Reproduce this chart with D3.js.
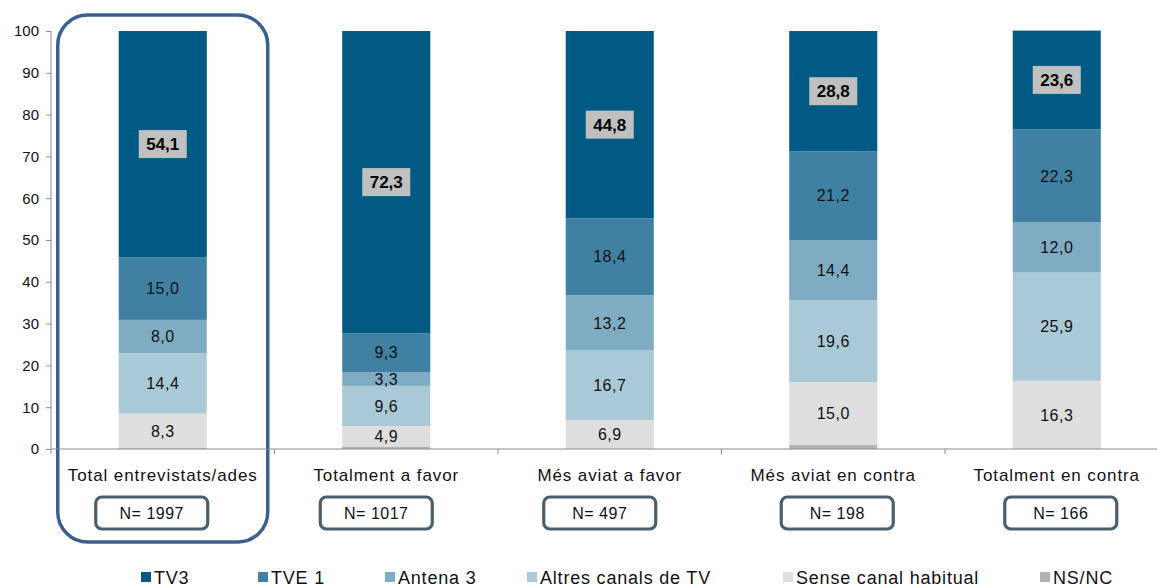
<!DOCTYPE html>
<html>
<head>
<meta charset="utf-8">
<script src="https://cdnjs.cloudflare.com/ajax/libs/d3/7.8.5/d3.min.js"></script>
<style>
  body { margin: 0; background: #fff; }
  svg { display: block; font-family: Arial, "Liberation Sans", sans-serif; }
</style>
</head>
<body>
<script>
// categories and sample sizes
var categories = ["Total entrevistats/ades", "Totalment a favor", "Més aviat a favor", "Més aviat en contra", "Totalment en contra"];
var sampleN = [1997, 1017, 497, 198, 166];

// series, bottom to top
var seriesNames = ["NS/NC", "Sense canal habitual", "Altres canals de TV", "Antena 3", "TVE 1", "TV3"];
var nsnc   = [0.2, 0.6, 0.0, 1.0, 0.0];
var sense  = [8.3, 4.9, 6.9, 15.0, 16.3];
var altres = [14.4, 9.6, 16.7, 19.6, 25.9];
var antena = [8.0, 3.3, 13.2, 14.4, 12.0];
var tve1   = [15.0, 9.3, 18.4, 21.2, 22.3];
var tv3    = [54.1, 72.3, 44.8, 28.8, 23.6];

var yTicks = [0, 10, 20, 30, 40, 50, 60, 70, 80, 90, 100];
var legendOrder = ["TV3", "TVE 1", "Antena 3", "Altres canals de TV", "Sense canal habitual", "NS/NC"];

var colors = {
	"TV3": "#015a83",
	"TVE 1": "#3f80a3",
	"Antena 3": "#80acc3",
	"Altres canals de TV": "#a9c9d7",
	"Sense canal habitual": "#dedede",
	"NS/NC": "#b2b2b2"
};

var W = 1157, H = 587;
var svg = d3.select("body").append("svg")
	.attr("width", W)
	.attr("height", H);

// build rows for the stack
var rows = categories.map(function(c, i) {
	return {
		cat: c,
		"NS/NC": nsnc[i],
		"Sense canal habitual": sense[i],
		"Altres canals de TV": altres[i],
		"Antena 3": antena[i],
		"TVE 1": tve1[i],
		"TV3": tv3[i]
	};
});

var x = d3.scaleBand()
	.domain(categories)
	.range([51, 1168.5])
	.paddingInner(0.606)
	.paddingOuter(0.303);

var y = d3.scaleLinear()
	.domain([0, 100])
	.range([449, 31]);

var stack = d3.stack().keys(seriesNames);
var layers = stack(rows);

// highlight round box around first column
var step = x.step();
svg.append("rect")
	.attr("x", x(categories[0]) + x.bandwidth() / 2 - 105)
	.attr("y", 15)
	.attr("width", 210)
	.attr("height", 527)
	.attr("rx", 30)
	.attr("fill", "none")
	.attr("stroke", "#3b6090")
	.attr("stroke-width", 3.5);

// y axis
var yAxis = d3.axisLeft(y)
	.tickValues(yTicks)
	.tickSize(5)
	.tickPadding(7);

var gy = svg.append("g")
	.attr("transform", "translate(51,0)")
	.call(yAxis);
gy.select(".domain").attr("stroke", "#8c8c8c").attr("d", "M0," + y(100) + "V" + (y(0) + 5));
gy.selectAll(".tick line").attr("stroke", "#8c8c8c");
gy.selectAll(".tick text").attr("font-size", 15).attr("fill", "#111")
	.style("font-family", "Arial, 'Liberation Sans', sans-serif");

// bars
var layerG = svg.selectAll("g.layer")
	.data(layers)
	.enter().append("g")
	.attr("class", "layer")
	.attr("fill", function(d) { return colors[d.key]; });

layerG.selectAll("rect")
	.data(function(d) { return d; })
	.enter().append("rect")
	.attr("x", function(d) { return x(d.data.cat); })
	.attr("y", function(d) { return y(d[1]); })
	.attr("width", x.bandwidth())
	.attr("height", function(d) { return y(d[0]) - y(d[1]); });

// x axis line with boundary ticks
var x0 = 51, x1 = 1168.5;
svg.append("line")
	.attr("x1", x0).attr("x2", x1)
	.attr("y1", y(0)).attr("y2", y(0))
	.attr("stroke", "#8c8c8c").attr("stroke-width", 1.2);
svg.selectAll("line.xtick")
	.data(categories)
	.enter().append("line")
	.attr("class", "xtick")
	.attr("x1", function(d) { return x(d) - x.step() * x.paddingInner() / 2 + step; })
	.attr("x2", function(d) { return x(d) - x.step() * x.paddingInner() / 2 + step; })
	.attr("y1", y(0)).attr("y2", y(0) + 5)
	.attr("stroke", "#8c8c8c");

// segment labels (not for TV3 or NS/NC)
var fmt = function(v) { return d3.format(".1f")(v).replace(".", ","); };
layers.forEach(function(layer) {
	if (layer.key === "NS/NC") return;
	layer.forEach(function(d) {
		var cx = x(d.data.cat) + x.bandwidth() / 2,
			cy = (y(d[0]) + y(d[1])) / 2;
		var v = d.data[layer.key];
		if (layer.key === "TV3") {
			svg.append("rect")
				.attr("x", cx - 24).attr("y", cy - 14)
				.attr("width", 48).attr("height", 28)
				.attr("fill", "#c0c0c0");
			svg.append("text")
				.attr("x", cx).attr("y", cy)
				.attr("dy", "0.36em")
				.attr("text-anchor", "middle")
				.attr("font-size", 17)
				.attr("font-weight", "bold")
				.attr("fill", "#000")
				.text(fmt(v));
		} else {
			svg.append("text")
				.attr("x", cx).attr("y", cy)
				.attr("dy", "0.36em")
				.attr("text-anchor", "middle")
				.attr("font-size", 16)
				.attr("letter-spacing", 0.5)
				.attr("fill", "#111")
				.text(fmt(v));
		}
	});
});

// category labels
svg.selectAll("text.cat")
	.data(categories)
	.enter().append("text")
	.attr("class", "cat")
	.attr("x", function(d) { return x(d) + x.bandwidth() / 2; })
	.attr("y", 475)
	.attr("dy", "0.36em")
	.attr("text-anchor", "middle")
	.attr("font-size", 17)
	.attr("letter-spacing", 0.9)
	.attr("fill", "#111")
	.text(function(d) { return d; });

// N boxes
var nShift = [-11, -10, -10, 4, 4];
var nBox = svg.selectAll("g.nbox")
	.data(sampleN)
	.enter().append("g")
	.attr("class", "nbox")
	.attr("transform", function(d, i) {
		return "translate(" + (x(categories[i]) + x.bandwidth() / 2 + nShift[i]) + ",513)";
	});
nBox.append("rect")
	.attr("x", -56).attr("y", -16)
	.attr("width", 112).attr("height", 32)
	.attr("rx", 6)
	.attr("fill", "#fff")
	.attr("stroke", "#4a5f6e")
	.attr("stroke-width", 3.2);
nBox.append("text")
	.attr("text-anchor", "middle")
	.attr("dy", "0.36em")
	.attr("font-size", 16)
	.attr("letter-spacing", 0.5)
	.attr("fill", "#111")
	.text(function(d) { return "N= " + d; });

// legend
var legendX = [141, 258, 385, 527, 783, 1040];
var leg = svg.selectAll("g.leg")
	.data(legendOrder)
	.enter().append("g")
	.attr("class", "leg")
	.attr("transform", function(d, i) { return "translate(" + legendX[i] + ",572)"; });
leg.append("rect")
	.attr("width", 10).attr("height", 10)
	.attr("fill", function(d) { return colors[d]; });
leg.append("text")
	.attr("x", 13).attr("y", 6)
	.attr("dy", "0.36em")
	.attr("font-size", 18)
	.attr("letter-spacing", 0.8)
	.attr("fill", "#111")
	.text(function(d) { return d; });
</script>
</body>
</html>
